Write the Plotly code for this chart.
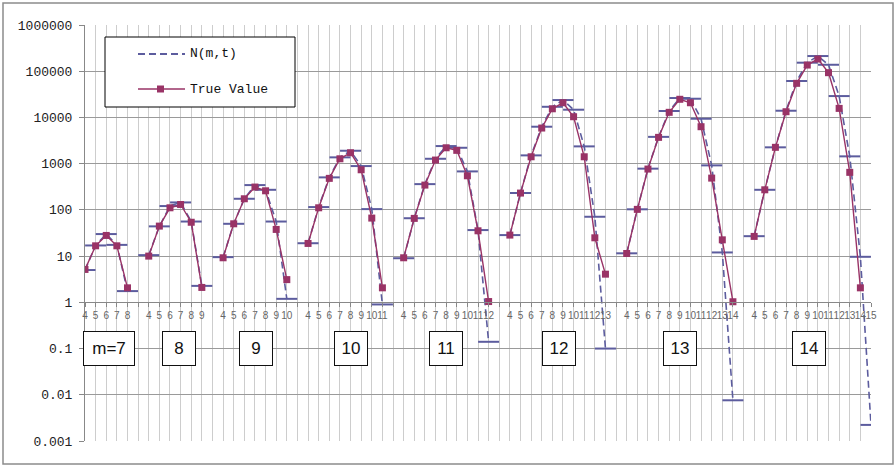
import plotly.graph_objects as go

# ---- data ----
m_values = [7, 8, 9, 10, 11, 12, 13, 14]
t_start = 4

n_mt = {
    7: [5, 17, 30, 17.5, 1.75],
    8: [10.5, 44, 121, 145, 56, 2.27],
    9: [9.5, 50, 174, 344, 272, 56, 1.19],
    10: [19, 115, 505, 1369, 1903, 887, 104, 0.9],
    11: [9, 66, 361, 1276, 2404, 2208, 680, 36.6, 0.14],
    12: [28.5, 232, 1511, 6300, 17000, 23800, 14700, 2366, 71, 0.1],
    13: [11.5, 103, 780, 3800, 13800, 26300, 25400, 9380, 918, 12.0, 0.0076],
    14: [27, 272, 2256, 13970, 61400, 153000, 213000, 138000, 29000, 1439, 9.66, 0.00223],
}
true_value = {
    7: [5.15, 16.7, 28, 16.7, 2.06],
    8: [10, 44.6, 111, 131, 54, 2.1],
    9: [9.2, 50, 174, 312, 259, 37.8, 3.1],
    10: [18.8, 111, 481, 1276, 1723, 738, 66.5, 2.06],
    11: [9.2, 65.5, 344, 1197, 2208, 1941, 547, 35.3, 1.04],
    12: [28.5, 231, 1410, 5900, 15400, 20800, 10360, 1410, 24.9, 4.07],
    13: [11.4, 102.6, 764, 3707, 12900, 24700, 20800, 6300, 487, 22.5, 1.03],
    14: [26.7, 272, 2256, 13300, 54700, 136000, 183600, 93000, 15700, 649, 2.06, None],
}
series_names = ["N(m,t)", "True Value"]
group_labels = ["m=7", "8", "9", "10", "11", "12", "13", "14"]
y_tick_vals = [0.001, 0.01, 0.1, 1, 10, 100, 1000, 10000, 100000, 1000000]
y_tick_text = ["0.001", "0.01", "0.1", "1", "10", "100", "1000", "10000", "100000", "1000000"]

# ---- build category axis (one blank category between groups) ----
xs, ticktext, n_y, t_y = [], [], [], []
idx = 0
for gi, m in enumerate(m_values):
    if gi > 0:
        xs.append(idx); ticktext.append(""); n_y.append(None); t_y.append(None)
        idx += 1
    for k, t in enumerate(range(t_start, m + 2)):
        xs.append(idx); ticktext.append(str(t))
        n_y.append(n_mt[m][k]); t_y.append(true_value[m][k])
        idx += 1
n_cat = idx

N_COLOR = "#5c5c9e"
T_COLOR = "#993366"
N_DASH = "7px,4px"

fig = go.Figure()
fig.add_trace(go.Scatter(
    x=xs, y=n_y, name=series_names[0], mode="lines+markers", connectgaps=False,
    line=dict(color=N_COLOR, width=1.6, dash=N_DASH),
    marker=dict(symbol="line-ew", size=15, line=dict(color=N_COLOR, width=2)),
    showlegend=False,
))
fig.add_trace(go.Scatter(
    x=xs, y=t_y, name=series_names[1], mode="lines+markers", connectgaps=False,
    line=dict(color=T_COLOR, width=1.4),
    marker=dict(symbol="square", size=7, color=T_COLOR),
    showlegend=False,
))

# plot-area geometry in pixels (for paper-coordinate placement of decorations)
PL, PR, PT, PB = 85, 871, 25, 441
def px(xp):
    return (xp - PL) / (PR - PL)
def py(yp):
    return (PB - yp) / (PB - PT)

# group label boxes (pixel-measured x offsets)
label_x = [2.26, 8.85, 16.1, 25.05, 34.0, 44.6, 56.0, 68.2]
for lab, lx in zip(group_labels, label_x):
    fig.add_annotation(
        x=lx, y=-1, xref="x", yref="y", text=lab, showarrow=False,
        font=dict(family="Liberation Sans, Arial", size=17, color="#111"),
        bgcolor="white", bordercolor="#111", borderwidth=1,
        width=48 if lab.startswith("m") else 30, height=31, borderpad=1,
    )

# outer chart border
fig.add_shape(type="rect", xref="paper", yref="paper",
              x0=px(3), x1=px(893), y0=py(464), y1=py(3),
              line=dict(color="#8c8c8c", width=1.5), fillcolor="rgba(0,0,0,0)", layer="below")

# legend (drawn manually to match the boxed Excel-style legend)
fig.add_shape(type="rect", xref="paper", yref="paper",
              x0=px(105), x1=px(295), y0=py(107), y1=py(37),
              line=dict(color="#000", width=1), fillcolor="white", layer="above")
fig.add_shape(type="line", xref="paper", yref="paper",
              x0=px(138), x1=px(185), y0=py(54), y1=py(54),
              line=dict(color=N_COLOR, width=1.8, dash=N_DASH), layer="above")
fig.add_shape(type="line", xref="paper", yref="paper",
              x0=px(138), x1=px(185), y0=py(89), y1=py(89),
              line=dict(color=T_COLOR, width=1.4), layer="above")
fig.add_shape(type="rect", xref="paper", yref="paper",
              x0=px(157), x1=px(164), y0=py(92.5), y1=py(85.5),
              line=dict(color=T_COLOR, width=0), fillcolor=T_COLOR, layer="above")
for name, yy in zip(series_names, [54, 89]):
    fig.add_annotation(x=px(188), y=py(yy), xref="paper", yref="paper", text=name,
                       showarrow=False, xanchor="left", yanchor="middle",
                       font=dict(family="Liberation Mono, DejaVu Sans Mono", size=13, color="#111"))

fig.update_layout(
    width=895, height=467,
    margin=dict(l=PL, r=895 - PR, t=PT, b=467 - PB, autoexpand=False),
    paper_bgcolor="white", plot_bgcolor="white",
    showlegend=False,
    xaxis=dict(
        range=[0, n_cat - 1], tickvals=xs, ticktext=ticktext, tickangle=0,
        anchor="free", position=1 / 3, automargin=False,
        showline=True, linecolor="#888", linewidth=1,
        ticks="outside", ticklen=4, tickcolor="#888",
        showgrid=True, gridcolor="#cdcdcd", gridwidth=1,
        tickfont=dict(family="Liberation Sans, Arial", size=10, color="#666"),
        zeroline=False,
    ),
    yaxis=dict(
        type="log", range=[-3, 6], tickvals=y_tick_vals, ticktext=y_tick_text,
        showline=True, linecolor="#888", linewidth=1, automargin=False,
        ticks="outside", ticklen=5, tickcolor="#888", ticklabelstandoff=4,
        showgrid=True, gridcolor="#9a9a9a", gridwidth=1,
        tickfont=dict(family="Liberation Mono, DejaVu Sans Mono", size=13, color="#222"),
        zeroline=False,
    ),
)

fig.write_html("out.html", config={"displayModeBar": False},
               post_script="document.body.style.margin='0';document.body.style.overflow='hidden';")
